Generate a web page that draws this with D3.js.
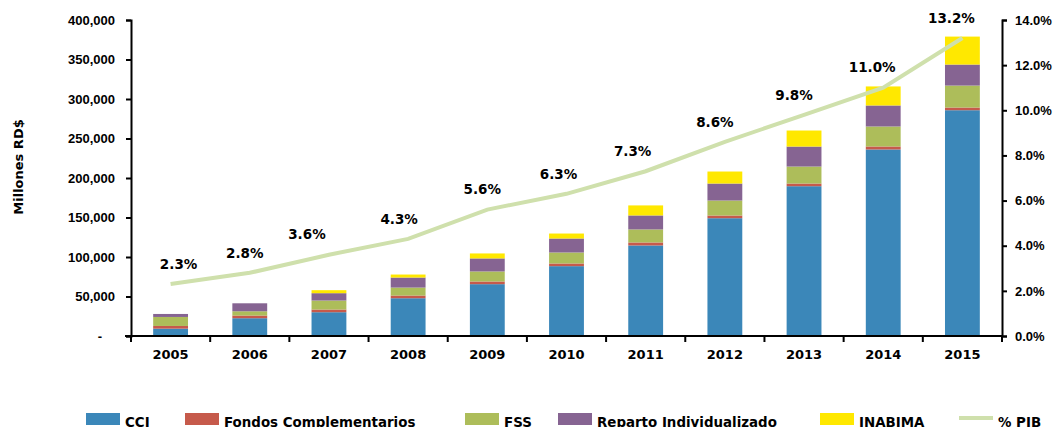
<!DOCTYPE html>
<html>
<head>
<meta charset="utf-8">
<script src="https://cdn.jsdelivr.net/npm/d3@7"></script>
<style>
  body { margin: 0; background: #fff; }
  svg { display: block; font-family: "DejaVu Sans", sans-serif; font-weight: bold; }
</style>
</head>
<body>
<svg id="chart" width="1062" height="427"></svg>
<script>
// values in millones RD$
const years = ["2005", "2006", "2007", "2008", "2009", "2010", "2011", "2012", "2013", "2014", "2015"];
const cci = [9300, 22500, 30100, 47800, 65600, 88400, 114600, 149100, 189600, 236100, 285800];
const fondos = [3400, 3400, 3400, 3400, 3400, 3400, 3800, 3400, 3400, 3800, 3400];
const fss = [11400, 5400, 11400, 10100, 12700, 13900, 16500, 19000, 21500, 25300, 27800];
const reparto = [3800, 10100, 9300, 12700, 16500, 17700, 17700, 21500, 25300, 26600, 26600];
const inabima = [0, 0, 3800, 3800, 6300, 6300, 12700, 15200, 20300, 24100, 35400];
const pib = [2.3, 2.8, 3.6, 4.3, 5.6, 6.3, 7.3, 8.6, 9.8, 11.0, 13.2];
const leftTicks = [0, 50000, 100000, 150000, 200000, 250000, 300000, 350000, 400000];
const rightTicks = [0, 2, 4, 6, 8, 10, 12, 14];

const seriesNames = ["CCI", "Fondos Complementarios", "FSS", "Reparto Individualizado", "INABIMA"];
const seriesValues = [cci, fondos, fss, reparto, inabima];
const colors = ["#3b87b9", "#c65a4b", "#adbd5a", "#866492", "#ffe800"];
const lineColor = "#cfe0ac";

const svg = d3.select("#chart");
const plotLeft = 131, plotRight = 1002, plotTop = 20, plotBottom = 336;

const x = d3.scaleBand().domain(years).range([plotLeft, plotRight]).paddingInner(0.56).paddingOuter(0.28);
const y = d3.scaleLinear().domain([0, 400000]).range([plotBottom, plotTop]);
const yR = d3.scaleLinear().domain([0, 14]).range([plotBottom, plotTop]);

// stack table built from the arrays
const table = years.map((yr, i) => {
    const row = { year: yr };
    seriesNames.forEach((s, k) => row[s] = seriesValues[k][i]);
    return row;
});
const stacked = d3.stack().keys(seriesNames)(table);

svg.append("g").selectAll("g")
    .data(stacked)
    .join("g")
    .attr("fill", (d, i) => colors[i])
    .selectAll("rect")
    .data(d => d)
    .join("rect")
    .attr("x", d => x(d.data.year))
    .attr("width", x.bandwidth())
    .attr("y", d => y(d[1]))
    .attr("height", d => y(d[0]) - y(d[1]));

// left axis
const gL = svg.append("g")
    .attr("transform", `translate(${plotLeft},0)`)
    .call(d3.axisLeft(y).tickValues(leftTicks).tickSize(5).tickPadding(11)
        .tickFormat(d => d === 0 ? "-" : d3.format(",")(d)));
gL.selectAll("text").style("font-size", "13px").attr("fill", "#000")
    .filter(d => d === 0).attr("dx", -13);

// right axis
const gR = svg.append("g")
    .attr("transform", `translate(${plotRight},0)`)
    .call(d3.axisRight(yR).tickValues(rightTicks).tickSize(5).tickPadding(8)
        .tickFormat(d => d.toFixed(1) + "%"));
gR.selectAll("text").style("font-size", "13px").attr("fill", "#000");

[gL, gR].forEach(g => {
    g.select(".domain").attr("stroke", "#000").attr("stroke-width", 2);
    g.selectAll(".tick line").attr("stroke", "#000").attr("stroke-width", 2);
});

// x axis: line, boundary ticks, year labels
const gX = svg.append("g");
gX.append("line")
    .attr("x1", plotLeft - 6).attr("x2", plotRight)
    .attr("y1", plotBottom).attr("y2", plotBottom)
    .attr("stroke", "#000").attr("stroke-width", 2);
gX.selectAll("line.b")
    .data(d3.range(years.length + 1))
    .join("line")
    .attr("class", "b")
    .attr("x1", i => plotLeft + i * x.step()).attr("x2", i => plotLeft + i * x.step())
    .attr("y1", plotBottom).attr("y2", plotBottom + 6)
    .attr("stroke", "#000").attr("stroke-width", 2);
gX.selectAll("text")
    .data(years)
    .join("text")
    .attr("x", d => x(d) + x.bandwidth() / 2)
    .attr("y", plotBottom + 23)
    .attr("text-anchor", "middle")
    .style("font-size", "13px")
    .text(d => d);

// y title
svg.append("text")
    .attr("transform", "translate(23,167) rotate(-90)")
    .attr("text-anchor", "middle")
    .style("font-size", "13px")
    .text("Millones RD$");

// % PIB line
const line = d3.line()
    .x((d, i) => x(years[i]) + x.bandwidth() / 2)
    .y(d => yR(d));
svg.append("path")
    .datum(pib)
    .attr("d", line)
    .attr("fill", "none")
    .attr("stroke", lineColor)
    .attr("stroke-width", 4);

// data labels were nudged by hand in the original
const labelDx = [8, -5, -22, -9, -5, -8, -13, -10, -10, -11, -11];
svg.append("g").selectAll("text")
    .data(pib)
    .join("text")
    .attr("x", (d, i) => x(years[i]) + x.bandwidth() / 2 + labelDx[i])
    .attr("y", d => yR(d) - 20)
    .attr("dy", "0.35em")
    .attr("text-anchor", "middle")
    .style("font-size", "13.5px")
    .text(d => d.toFixed(1) + "%");

// legend
const legendX = [86, 185, 465, 558, 820, 959];
const lg = svg.append("g").style("font-size", "13.4px");
seriesNames.forEach((s, i) => {
    lg.append("rect").attr("x", legendX[i]).attr("y", 413)
        .attr("width", 34).attr("height", 12).attr("fill", colors[i]);
    lg.append("text").attr("x", legendX[i] + 39).attr("y", 427).text(s);
});
lg.append("line").attr("x1", legendX[5]).attr("x2", legendX[5] + 34)
    .attr("y1", 418).attr("y2", 418)
    .attr("stroke", lineColor).attr("stroke-width", 4);
lg.append("text").attr("x", legendX[5] + 39).attr("y", 427).text("% PIB");
</script>
</body>
</html>
